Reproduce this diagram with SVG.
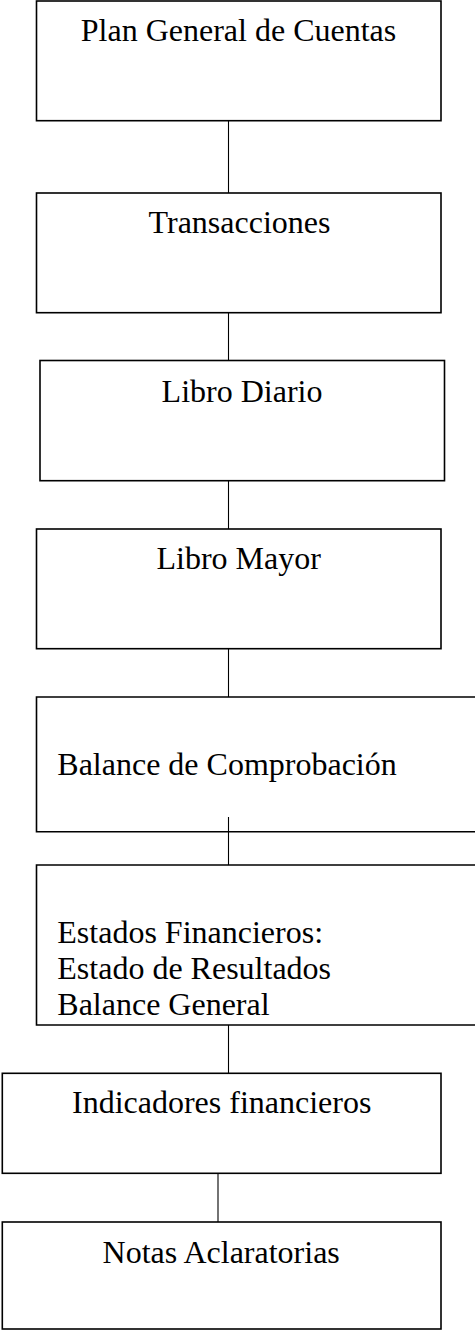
<svg xmlns="http://www.w3.org/2000/svg" width="475" height="1330" viewBox="0 0 475 1330">
<style>
.box{fill:#fff;stroke:#000;stroke-width:1.6}
.ln{stroke:#000;stroke-width:1.1;fill:none}
text{font-family:"Liberation Serif","Times New Roman",serif;font-size:32px;fill:#000}
.c{text-anchor:middle}
</style>
<rect width="475" height="1330" fill="#fff"/>
<g id="connectors">
<line class="ln" x1="228.5" y1="121" x2="228.5" y2="193"/>
<line class="ln" x1="228.5" y1="313" x2="228.5" y2="360.5"/>
<line class="ln" x1="228.5" y1="481" x2="228.5" y2="529"/>
<line class="ln" x1="228.5" y1="649" x2="228.5" y2="697"/>
<line class="ln" x1="228.5" y1="817" x2="228.5" y2="865"/>
<line class="ln" x1="228.5" y1="1025" x2="228.5" y2="1073"/>
<line class="ln" x1="218" y1="1173.5" x2="218" y2="1222"/>
</g>
<g id="n1"><rect class="box" x="36.5" y="1" width="404.5" height="119.7"/><text class="c" x="238.5" y="40.7">Plan General de Cuentas</text></g>
<g id="n2"><rect class="box" x="36.5" y="193" width="404.5" height="119.7"/><text class="c" x="239.5" y="233.3">Transacciones</text></g>
<g id="n3"><rect class="box" x="40" y="360.5" width="404.5" height="120.2"/><text class="c" x="242" y="401.7">Libro Diario</text></g>
<g id="n4"><rect class="box" x="36.5" y="529" width="404.5" height="119.7"/><text class="c" x="238.7" y="569">Libro Mayor</text></g>
<g id="n5"><path class="box" d="M475,697 H36.5 V831.7 H475"/><line class="ln" x1="228.5" y1="817" x2="228.5" y2="831.7"/><text x="57.3" y="775">Balance de Comprobación</text></g>
<g id="n6"><path class="box" d="M475,865 H36.5 V1025 H475"/><text x="57.3" y="942.7">Estados Financieros:</text><text x="57.3" y="978.8">Estado de Resultados</text><text x="57.3" y="1015">Balance General</text></g>
<g id="n7"><rect class="box" x="2.3" y="1073.3" width="438.7" height="100"/><text class="c" x="221.7" y="1112.7">Indicadores financieros</text></g>
<g id="n8"><rect class="box" x="2.3" y="1222" width="438.7" height="107"/><text class="c" x="221.2" y="1262.7">Notas Aclaratorias</text></g>
</svg>
